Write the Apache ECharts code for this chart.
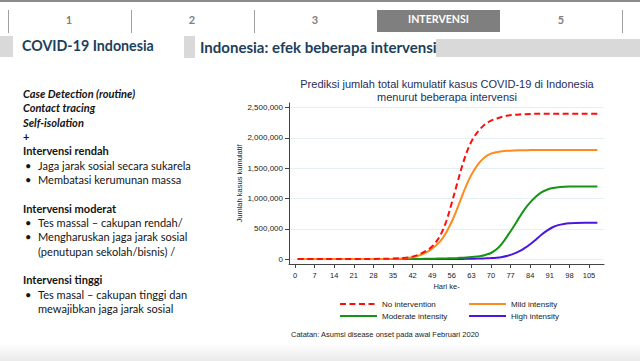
<!DOCTYPE html>
<html><head><meta charset="utf-8">
<script src="https://cdn.jsdelivr.net/npm/echarts@6/dist/echarts.min.js"></script>
<style>
html,body{margin:0;padding:0;width:640px;height:361px;overflow:hidden;background:#fff;}
#chart{position:absolute;left:0;top:0;width:640px;height:361px;z-index:2;}
.s{position:absolute;white-space:nowrap;font-family:Lato,'Open Sans',sans-serif;line-height:1;}
.blk{position:absolute;}
#left{position:absolute;left:23px;top:87px;font-family:Lato,'Open Sans',sans-serif;color:#141414;line-height:14.33px;font-size:11.5px;z-index:3;}
#left div{height:14.33px;white-space:nowrap;position:relative;}
#left .b{font-weight:bold;}
#left .bi{font-weight:bold;font-style:italic;}
#left .bl{padding-left:15px;}
#left .bl:before{content:'•';position:absolute;left:2px;}
#left .ind{padding-left:15px;}
</style></head><body>
<div class="blk" style="left:0;top:0;width:640px;height:2px;background:#8c8c8c"></div>
<div class="blk" style="left:8px;top:10px;width:1px;height:23px;background:#a0a0a0"></div>
<div class="blk" style="left:131px;top:10px;width:1px;height:23px;background:#a0a0a0"></div>
<div class="blk" style="left:254px;top:10px;width:1px;height:23px;background:#a0a0a0"></div>
<div class="blk" style="left:622px;top:10px;width:1px;height:23px;background:#a0a0a0"></div>
<div class="blk" style="left:377px;top:10px;width:123px;height:22px;background:#7f7f7f"></div>
<div class="s nav" style="left:69px;top:14px;transform:translateX(-50%);font-weight:bold;font-size:11px;color:#7f7f7f">1</div>
<div class="s nav" style="left:192px;top:14px;transform:translateX(-50%);font-weight:bold;font-size:11px;color:#7f7f7f">2</div>
<div class="s nav" style="left:315px;top:14px;transform:translateX(-50%);font-weight:bold;font-size:11px;color:#7f7f7f">3</div>
<div class="s nav" style="left:561px;top:14px;transform:translateX(-50%);font-weight:bold;font-size:11px;color:#7f7f7f">5</div>
<div class="s" id="intv" style="left:438.5px;top:14px;transform:translateX(-50%);font-weight:bold;font-size:11px;color:#fff">INTERVENSI</div>

<div class="blk" style="left:0;top:36px;width:13px;height:21px;background:#d9d9d9"></div>
<div class="blk" style="left:184px;top:36px;width:11px;height:22px;background:#d9d9d9"></div>
<div class="blk" style="left:436px;top:39px;width:204px;height:18px;background:#d9d9d9"></div>
<div class="s" id="h1" style="left:22px;top:39px;font-weight:bold;font-size:14px;color:#1c3f5c;z-index:3">COVID-19 Indonesia</div>
<div class="s" id="h2" style="left:200px;top:40px;font-weight:bold;font-size:14px;color:#1c3f5c;z-index:3">Indonesia: efek beberapa intervensi</div>

<div id="left">
<div class="bi">Case Detection (routine)</div>
<div class="bi">Contact tracing</div>
<div class="bi">Self-isolation</div>
<div class="b">+</div>
<div class="b">Intervensi rendah</div>
<div class="bl" id="ref">Jaga jarak sosial secara sukarela</div>
<div class="bl">Membatasi kerumunan massa</div>
<div>&nbsp;</div>
<div class="b">Intervensi moderat</div>
<div class="bl">Tes massal – cakupan rendah/</div>
<div class="bl">Mengharuskan jaga jarak sosial</div>
<div class="ind">(penutupan sekolah/bisnis) /</div>
<div>&nbsp;</div>
<div class="b">Intervensi tinggi</div>
<div class="bl">Tes masal – cakupan tinggi dan</div>
<div class="ind">mewajibkan jaga jarak sosial</div>
</div>
<div class="blk" style="left:0;top:343px;width:640px;height:18px;background:linear-gradient(#ffffff,#eaeaea)"></div>

<div id="chart"></div>
<script>
// ---- data ----
const days = [1, 7, 14, 21, 28, 35, 38, 42, 45, 48, 50, 52, 54, 56, 58, 60, 62, 64, 66, 68, 70, 72, 74, 76, 78, 80, 82, 84, 86, 88, 90, 92, 94, 96, 98, 100, 104, 108];
const noIntervention = [0, 0, 0, 0, 2000, 8000, 15000, 40000, 90000, 170000, 260000, 400000, 620000, 930000, 1260000, 1580000, 1840000, 2020000, 2140000, 2230000, 2285000, 2320000, 2350000, 2370000, 2380000, 2388000, 2393000, 2396000, 2398000, 2399000, 2400000, 2400000, 2400000, 2400000, 2400000, 2400000, 2400000, 2400000];
const mildIntensity = [0, 0, 0, 0, 1000, 5000, 10000, 30000, 70000, 140000, 210000, 300000, 440000, 620000, 840000, 1080000, 1300000, 1470000, 1600000, 1690000, 1740000, 1765000, 1780000, 1788000, 1793000, 1796000, 1798000, 1799000, 1800000, 1800000, 1800000, 1800000, 1800000, 1800000, 1800000, 1800000, 1800000, 1800000];
const moderateIntensity = [0, 0, 0, 0, 0, 0, 0, 0, 2000, 4000, 6000, 8000, 10000, 13000, 17000, 22000, 28000, 36000, 48000, 68000, 100000, 160000, 260000, 390000, 530000, 680000, 820000, 935000, 1030000, 1100000, 1145000, 1172000, 1187000, 1195000, 1199000, 1200000, 1200000, 1200000];
const highIntensity = [0, 0, 0, 0, 0, 0, 0, 0, 0, 0, 0, 0, 0, 0, 1000, 2000, 4000, 6000, 8000, 11000, 15000, 22000, 35000, 55000, 85000, 125000, 180000, 245000, 320000, 400000, 470000, 525000, 560000, 580000, 592000, 597000, 600000, 601000];
const yTicks = [0, 500000, 1000000, 1500000, 2000000, 2500000];
const xTicks = [0, 7, 14, 21, 28, 35, 42, 49, 56, 63, 70, 77, 84, 91, 98, 105];
const titleText = 'Prediksi jumlah total kumulatif kasus COVID-19 di Indonesia\nmenurut beberapa intervensi';
const noteText = 'Catatan: Asumsi disease onset pada awal Februari 2020';

// ---- fit slide text widths ----
function fit(id, target){
  const el = document.getElementById(id);
  const fs = parseFloat(getComputedStyle(el).fontSize);
  const w = el.getBoundingClientRect().width;
  el.style.fontSize = (fs * target / w) + 'px';
}
(function(){
  const ref = document.getElementById('ref');
  const span = document.createElement('span'); span.textContent = ref.textContent;
  span.style.font = getComputedStyle(ref).font; span.style.position='absolute'; span.style.whiteSpace='nowrap';
  document.body.appendChild(span);
  const w = span.getBoundingClientRect().width; span.remove();
  document.getElementById('left').style.fontSize = (11.5 * 153 / w) + 'px';
  fit('h1', 132); fit('h2', 237); fit('intv', 61);
})();

const pairs = vals => days.map((d, i) => [d, vals[i]]);
const font = 'Liberation Sans, Arial, sans-serif';
const mk = (name, vals, color, dashed) => ({
  name, type: 'line', data: pairs(vals), smooth: 0.35, symbol: 'none', showSymbol: false,
  lineStyle: { color, width: 2, type: dashed ? [6, 3.5] : 'solid' }, itemStyle: { color },
  emphasis: { disabled: true }, silent: true
});
const legendBase = {
  orient: 'vertical', itemWidth: 37, itemHeight: 8, itemGap: 4, selectedMode: false,
  itemStyle: { opacity: 0 },
  textStyle: { fontSize: 8, color: '#222', fontFamily: font }
};

const chart = echarts.init(document.getElementById('chart'), null, { renderer: 'svg' });
chart.setOption({
  animation: false,
  backgroundColor: 'transparent',
  textStyle: { fontFamily: font },
  grid: { left: 289, right: 36, top: 103, bottom: 97 },
  graphic: [
    { type: 'text', x: 447, y: 77, style: { text: titleText, textAlign: 'center', fontSize: 11, lineHeight: 13, fill: '#1f2d5a', fontFamily: font } },
    { type: 'text', x: 291, y: 330, style: { text: noteText, fontSize: 7.5, fill: '#222', fontFamily: font } }
  ],
  xAxis: {
    type: 'value', min: -2.14, max: 110.36,
    name: 'Hari ke-', nameLocation: 'middle', nameGap: 18,
    nameTextStyle: { fontSize: 7.5, color: '#222', fontFamily: font },
    axisLine: { onZero: false, lineStyle: { color: '#444', width: 1 } },
    axisTick: { show: true, length: 4, customValues: xTicks, lineStyle: { color: '#444' } },
    axisLabel: { customValues: xTicks, fontSize: 7.5, color: '#222', margin: 7, fontFamily: font },
    splitLine: { show: false }
  },
  yAxis: {
    type: 'value', min: -82000, max: 2577000,
    name: 'Jumlah kasus kumulatif', nameLocation: 'middle', nameGap: 46,
    nameTextStyle: { fontSize: 7.5, color: '#222', fontFamily: font },
    axisLine: { show: true, onZero: false, lineStyle: { color: '#444', width: 1 } },
    axisTick: { show: true, length: 4, customValues: yTicks, lineStyle: { color: '#444' } },
    axisLabel: { customValues: yTicks, fontSize: 8, color: '#222', margin: 6, fontFamily: font,
      formatter: v => Number(v).toLocaleString('en-US') },
    splitLine: { show: true, lineStyle: { color: '#e6eff1', width: 1 } }
  },
  legend: [
    Object.assign({ left: 334, top: 295, data: ['No intervention', 'Moderate intensity'] }, legendBase),
    Object.assign({ left: 463, top: 295, data: ['Mild intensity', 'High intensity'] }, legendBase)
  ],
  series: [
    mk('High intensity', highIntensity, '#4a16e0', false),
    mk('Moderate intensity', moderateIntensity, '#169416', false),
    mk('Mild intensity', mildIntensity, '#ff8a1e', false),
    mk('No intervention', noIntervention, '#ff0d0d', true)
  ]
});
</script>
</body></html>
